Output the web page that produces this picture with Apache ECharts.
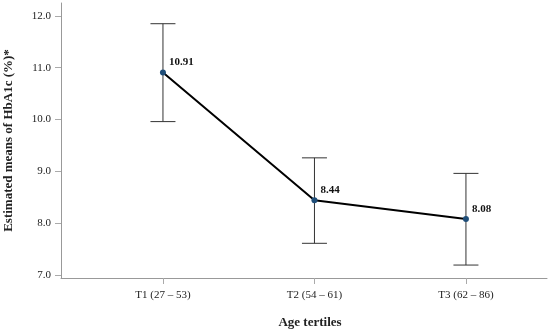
<!DOCTYPE html>
<html><head><meta charset="utf-8">
<script src="https://cdn.jsdelivr.net/npm/echarts@6/dist/echarts.min.js"></script>
<style>html,body{margin:0;padding:0;background:#fff}#c{width:550px;height:333px}</style>
</head><body><div id="c"></div>
<script>
var categories = ['T1 (27 – 53)', 'T2 (54 – 61)', 'T3 (62 – 86)'];
var means = [10.91, 8.44, 8.08];
var lower = [9.96, 7.61, 7.19];
var upper = [11.85, 9.26, 8.96];
var yTicks = [7, 8, 9, 10, 11, 12];
var xPos = [1, 2, 3];

var font = '"Liberation Serif", "Times New Roman", serif';
var chart = echarts.init(document.getElementById('c'), null, {renderer: 'canvas'});
var errData = xPos.map(function (x, i) { return [x, lower[i], upper[i]]; });
var lineData = xPos.map(function (x, i) { return [x, means[i]]; });

chart.setOption({
  animation: false,
  backgroundColor: '#fff',
  grid: {left: 61, right: 3, top: 3, bottom: 55, containLabel: false, outerBoundsMode: 'none'},
  xAxis: {
    type: 'value', min: 0.327, max: 3.535,
    splitLine: {show: false},
    axisLine: {lineStyle: {color: '#999', width: 1}},
    axisTick: {show: true, customValues: xPos, length: 6, lineStyle: {color: '#aaa'}},
    axisLabel: {customValues: xPos, margin: 12, color: '#222', fontFamily: font, fontSize: 11,
      formatter: function (v) { return categories[Math.round(v) - 1]; }},
    name: 'Age tertiles', nameLocation: 'middle', nameGap: 38,
    nameTextStyle: {fontFamily: font, fontSize: 13, fontWeight: 'bold', color: '#222', padding: [0, 0, 0, 12]}
  },
  yAxis: {
    type: 'value', min: 6.94, max: 12.25,
    splitLine: {show: false},
    axisLine: {show: true, lineStyle: {color: '#999', width: 1}},
    axisTick: {show: true, customValues: yTicks, length: 6, lineStyle: {color: '#aaa'}},
    axisLabel: {customValues: yTicks, margin: 10, color: '#222', fontFamily: font, fontSize: 11,
      formatter: function (v) { return v.toFixed(1); }},
    name: 'Estimated means of HbA1c (%)*', nameLocation: 'middle', nameGap: 46,
    nameTextStyle: {fontFamily: font, fontSize: 13, fontWeight: 'bold', color: '#222'}
  },
  series: [
    {
      type: 'custom',
      data: errData,
      z: 1,
      renderItem: function (params, api) {
        var x = api.value(0);
        var lo = api.coord([x, api.value(1)]);
        var hi = api.coord([x, api.value(2)]);
        var hw = 12.5;
        var st = {stroke: '#333', lineWidth: 1};
        return {type: 'group', children: [
          {type: 'line', shape: {x1: hi[0], y1: hi[1], x2: lo[0], y2: lo[1]}, style: st},
          {type: 'line', shape: {x1: hi[0] - hw, y1: hi[1], x2: hi[0] + hw, y2: hi[1]}, style: st},
          {type: 'line', shape: {x1: lo[0] - hw, y1: lo[1], x2: lo[0] + hw, y2: lo[1]}, style: st}
        ]};
      }
    },
    {
      type: 'line',
      data: lineData,
      z: 3,
      symbol: 'circle', symbolSize: 6,
      itemStyle: {color: '#1f4e79'},
      lineStyle: {color: '#000', width: 2},
      label: {show: true, position: 'right', distance: 3, offset: [0, -10],
        fontFamily: font, fontSize: 11, fontWeight: 'bold', color: '#111',
        formatter: function (p) { return p.value[1].toFixed(2); }}
    }
  ]
});
</script></body></html>
